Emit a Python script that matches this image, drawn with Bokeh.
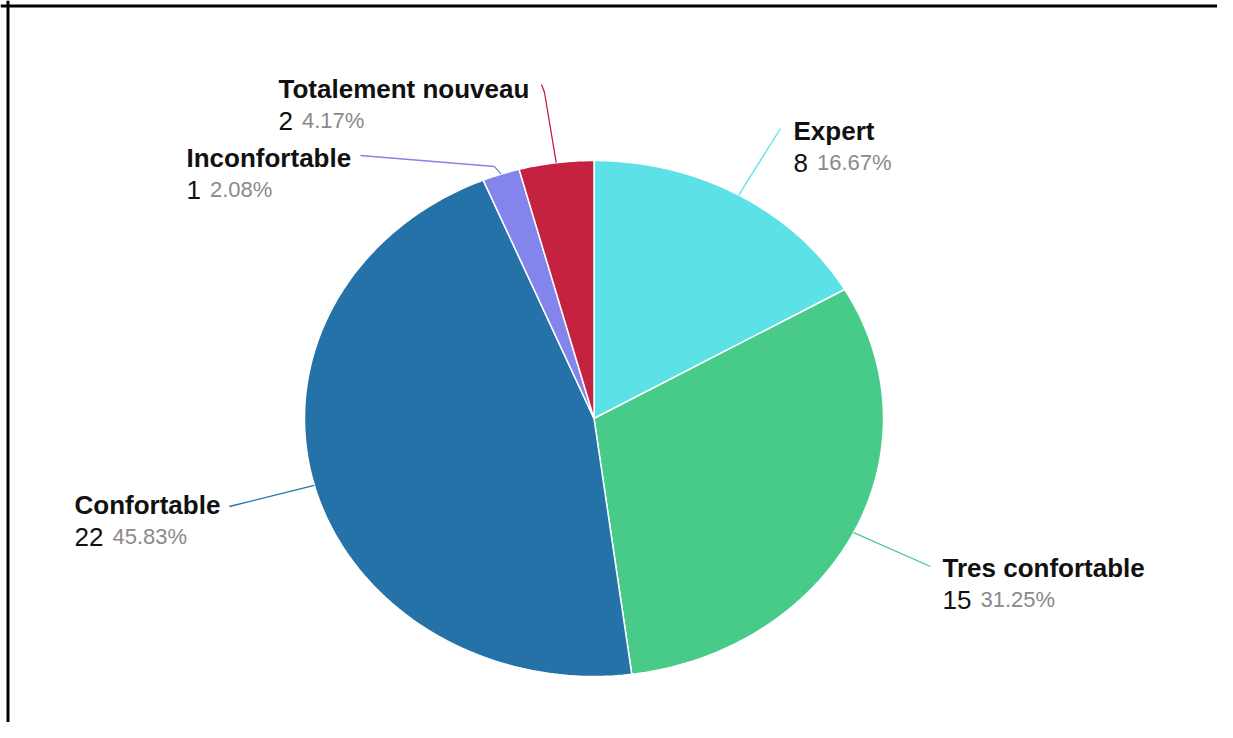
import numpy as np
from bokeh.plotting import figure
from bokeh.models import Range1d, ColumnDataSource, Span
from bokeh.core.properties import value
from bokeh.embed import file_html
from bokeh.resources import INLINE

# ---------------- data ----------------
categories = ["Expert", "Tres confortable", "Confortable", "Inconfortable", "Totalement nouveau"]
counts = [8, 15, 22, 1, 2]
colors = ["#5BE1E6", "#48CA89", "#2472A8", "#8384EC", "#C52240"]

# ---------------- layout (pixel-like units, y grows downward) ----------------
W, H = 1217, 722
CX, CY = 593.5, 418.0
RX, RY = 289.5, 258.0        # slightly stretched (elliptical) pie

# label anchor (x, baseline) per category
label_pos = [(793, 130), (942, 567), (74, 504), (186, 157), (278, 88)]
LINE_GAP = 32
# leader-line waypoints after the slice mid point
leader_via = [[(780, 128)], [(930, 566)], [(229, 506)],
              [(494, 166), (360, 155)], [(544, 92), (541, 84)]]

LABEL_FS = 26
COUNT_FS = 26
PCT_FS = 22
FONT = "Liberation Sans"

total = float(sum(counts))
fracs = [c / total for c in counts]
pct_text = ["%.2f%%" % (100 * f) for f in fracs]

p = figure(width=W, height=H, output_backend="svg", toolbar_location=None,
           x_range=Range1d(0, W), y_range=Range1d(H, 0), min_border=0)
p.axis.visible = False
p.grid.visible = False
p.outline_line_color = None
p.background_fill_color = "white"
p.border_fill_color = "white"

# slices (clockwise from 12 o'clock)
xs, ys, mids = [], [], []
start = 0.0
for f in fracs:
    a0 = start * 2 * np.pi
    a1 = (start + f) * 2 * np.pi
    t = np.linspace(a0, a1, max(8, int(400 * f)))
    px = np.concatenate([[CX], CX + RX * np.sin(t), [CX]])
    py = np.concatenate([[CY], CY - RY * np.cos(t), [CY]])
    xs.append(px.tolist())
    ys.append(py.tolist())
    am = (a0 + a1) / 2
    mids.append((CX + RX * np.sin(am), CY - RY * np.cos(am)))
    start += f

src = ColumnDataSource(dict(xs=xs, ys=ys, color=colors, cat=categories))
p.patches("xs", "ys", source=src, fill_color="color", line_color="white", line_width=1.5)

# leader lines
lx, ly = [], []
for (mx, my), via in zip(mids, leader_via):
    lx.append([mx] + [v[0] for v in via])
    ly.append([my] + [v[1] for v in via])
p.multi_line(xs=lx, ys=ly, line_color=colors, line_width=1.3)

# labels
name_x = [lp[0] for lp in label_pos]
name_y = [lp[1] for lp in label_pos]
cnt_y = [y + LINE_GAP for y in name_y]
cnt_text = [str(c) for c in counts]
pct_x = [x + len(s) * 0.556 * COUNT_FS + 9 for x, s in zip(name_x, cnt_text)]

p.text(x=name_x, y=name_y, text=categories, text_font=value(FONT), text_font_style="bold",
       text_font_size="%dpx" % LABEL_FS, text_color="#111111", text_baseline="alphabetic",
       text_align="left")
p.text(x=name_x, y=cnt_y, text=cnt_text, text_font=value(FONT), text_font_style="normal",
       text_font_size="%dpx" % COUNT_FS, text_color="#111111", text_baseline="alphabetic",
       text_align="left")
p.text(x=pct_x, y=cnt_y, text=pct_text, text_font=value(FONT), text_font_style="normal",
       text_font_size="%dpx" % PCT_FS, text_color="#8a8a8a", text_baseline="alphabetic",
       text_align="left")

# screenshot frame (left and top edges)
p.add_layout(Span(location=7.5, dimension="height", line_color="black", line_width=3))
p.add_layout(Span(location=5.5, dimension="width", line_color="black", line_width=3))

open("out.html", "w").write(file_html(p, INLINE))
